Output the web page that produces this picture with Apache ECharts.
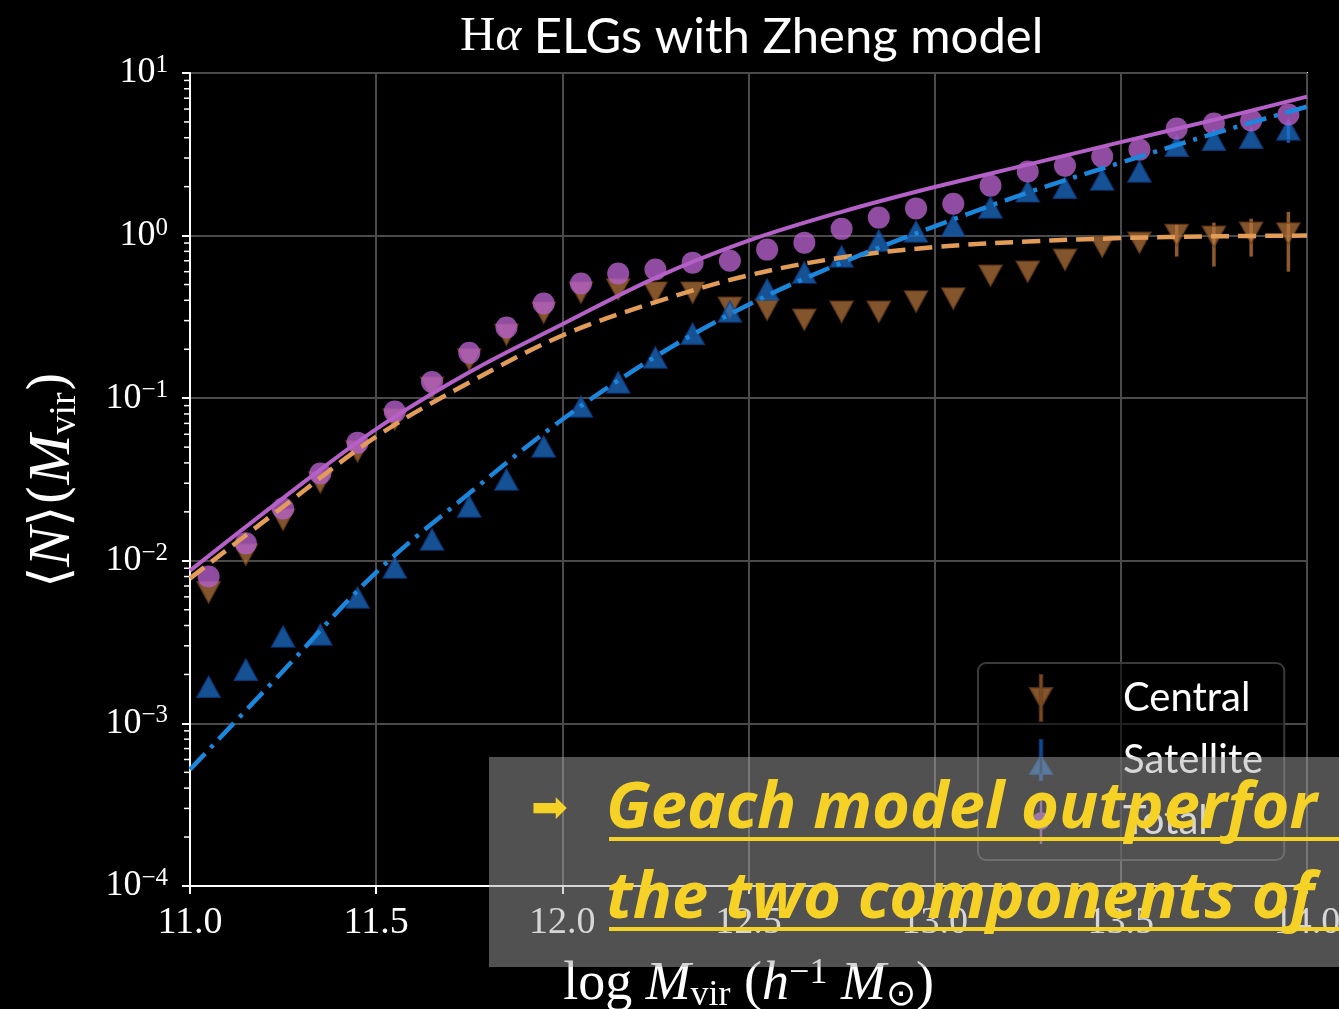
<!DOCTYPE html>
<html><head><meta charset="utf-8">
<script src="https://cdn.jsdelivr.net/npm/echarts@6/dist/echarts.min.js"></script>
<style>html,body{margin:0;padding:0;background:#000}#c{width:1339px;height:1009px}</style>
</head><body><div id="c"></div>
<script>
// ---- data ----
const massBins = [11.05, 11.15, 11.25, 11.35, 11.45, 11.55, 11.65, 11.75, 11.85, 11.95,
                  12.05, 12.15, 12.25, 12.35, 12.45, 12.55, 12.65, 12.75, 12.85, 12.95,
                  13.05, 13.15, 13.25, 13.35, 13.45, 13.55, 13.65, 13.75, 13.85, 13.95];
const totalMeasured = [0.0080, 0.0128, 0.021, 0.0344, 0.0533, 0.0827, 0.126, 0.19, 0.272, 0.382,
                       0.507, 0.584, 0.618, 0.682, 0.70, 0.82, 0.905, 1.10, 1.29, 1.47,
                       1.57, 2.03, 2.48, 2.69, 3.06, 3.38, 4.55, 4.89, 5.1, 5.55];
const centralMeasured = [0.0064, 0.0109, 0.0179, 0.0303, 0.047, 0.074, 0.116, 0.173, 0.246, 0.336,
                         0.446, 0.466, 0.446, 0.446, 0.36, 0.35, 0.304, 0.34, 0.34, 0.393,
                         0.41, 0.567, 0.60, 0.71, 0.855, 0.905, 1.01, 0.985, 1.04, 1.03];
const satelliteMeasured = [0.00168, 0.00214, 0.00342, 0.00352, 0.00594, 0.00908, 0.0135, 0.0216, 0.0316, 0.0504,
                           0.0888, 0.125, 0.178, 0.249, 0.341, 0.466, 0.592, 0.743, 0.931, 1.06,
                           1.15, 1.49, 1.87, 1.97, 2.21, 2.48, 3.57, 3.89, 4.0, 4.49];
const centralErrMass = [13.65, 13.75, 13.85, 13.95];
const centralErrLow  = [0.743, 0.645, 0.743, 0.60];
const centralErrHigh = [1.17, 1.20, 1.27, 1.40];
const satelliteErrMass = [13.95];
const satelliteErrLow  = [3.73];
const satelliteErrHigh = [4.95];

const modelMass = [11.0, 11.25, 11.5, 11.75, 12.0, 12.25, 12.5, 12.75, 13.0, 13.25, 13.5, 13.75, 14.0];
const totalModel = [0.0087, 0.0243, 0.0646, 0.1445, 0.285, 0.55, 0.93, 1.40, 1.99, 2.73, 3.76, 5.15, 7.16];
const centralModel = [0.0078, 0.0215, 0.058, 0.125, 0.243, 0.39, 0.57, 0.733, 0.85, 0.92, 0.965, 0.99, 1.0];
const satelliteModel = [0.00052, 0.0021, 0.0085, 0.026, 0.074, 0.18, 0.376, 0.68, 1.14, 1.84, 2.81, 4.24, 6.21];

const xTickLabels = ['11.0', '11.5', '12.0', '12.5', '13.0', '13.5', '14.0'];
const yDecades = [-4, -3, -2, -1, 0, 1];
const minorMultipliers = [2, 3, 4, 5, 6, 7, 8, 9];

// ---- build ----
const pairs = (xs, ys) => xs.map((x, i) => [x, ys[i]]);
const minorTicks = [];
yDecades.slice(0, -1).forEach(d => minorMultipliers.forEach(m => minorTicks.push([11.0, m * Math.pow(10, d)])));

const serif = 'Liberation Serif';
const sans = 'Lato';

function errorBar(color, width) {
  return function (params, api) {
    const p1 = api.coord([api.value(0), api.value(1)]);
    const p2 = api.coord([api.value(0), api.value(2)]);
    return { type: 'line', shape: { x1: p1[0], y1: p1[1], x2: p2[0], y2: p2[1] },
             style: { stroke: color, lineWidth: width } };
  };
}

const centralColor = 'rgba(182,118,62,0.9)';
const satelliteColor = 'rgba(28,110,200,0.92)';
const totalColor = '#b45fc8';

const chart = echarts.init(document.getElementById('c'), null, { renderer: 'canvas' });
chart.setOption({
  backgroundColor: '#000',
  animation: false,
  title: {
    text: '{h|H}{a|α} ELGs with Zheng model',
    left: 455, top: 8,
    textStyle: {
      color: '#fff', fontFamily: sans, fontSize: 49, fontWeight: 'normal',
      rich: {
        h: { color: '#fff', fontFamily: serif, fontSize: 49 },
        a: { color: '#fff', fontFamily: serif, fontStyle: 'italic', fontSize: 49 }
      }
    }
  },
  legend: {
    data: [
      { name: 'Central', icon: 'path://M9.75,0L12.25,0L12.25,46L9.75,46Z M0,13L22,13L11,33Z' },
      { name: 'Satellite', icon: 'path://M9.75,0L12.25,0L12.25,40L9.75,40Z M0,34L22,34L11,16Z' },
      { name: 'Total', icon: 'path://M9.75,0L12.25,0L12.25,46L9.75,46Z M11,14A9,9 0 1,1 11,32A9,9 0 1,1 11,14Z' }
    ],
    orient: 'vertical', left: 978, top: 663,
    itemWidth: 22, itemHeight: 46, itemGap: 17,
    padding: [11, 21, 16, 51],
    backgroundColor: 'rgba(0,0,0,0.55)', borderColor: '#3a3a3a', borderWidth: 2, borderRadius: 8,
    textStyle: { color: '#fff', fontFamily: sans, fontSize: 40, padding: [0, 0, 0, 66] }
  },
  grid: { left: 190, right: 32, top: 73, bottom: 123, show: true, borderColor: '#fff', borderWidth: 2,
          backgroundColor: 'transparent', outerBoundsMode: 'none', containLabel: false },
  xAxis: {
    type: 'value', min: 11, max: 14, interval: 0.5,
    axisLine: { show: true, onZero: false, lineStyle: { color: '#fff', width: 2 } },
    axisTick: { show: true, length: 8, lineStyle: { color: '#fff', width: 2 } },
    axisLabel: {
      color: '#fff', fontFamily: serif, fontSize: 38, margin: 18,
      formatter: v => xTickLabels[Math.round((v - 11) / 0.5)]
    },
    splitLine: { show: true, lineStyle: { color: '#4a4a4a', width: 2 } },
    name: '{r|log }{i|M}{sub|vir}{r| (}{i|h}{sup|−1}{r| }{i|M}{sub|⊙}{r|)}',
    nameLocation: 'middle', nameGap: 70,
    nameTextStyle: {
      color: '#fff',
      rich: {
        r: { color: '#fff', fontFamily: serif, fontSize: 54, lineHeight: 58 },
        i: { color: '#fff', fontFamily: serif, fontStyle: 'italic', fontSize: 54, lineHeight: 58 },
        sub: { color: '#fff', fontFamily: serif, fontSize: 36, lineHeight: 34, verticalAlign: 'bottom' },
        sup: { color: '#fff', fontFamily: serif, fontSize: 36, lineHeight: 34, verticalAlign: 'top' }
      }
    }
  },
  yAxis: {
    type: 'log', logBase: 10, min: 1e-4, max: 10, splitNumber: 5,
    axisLine: { show: true, onZero: false, lineStyle: { color: '#fff', width: 2 } },
    axisTick: { show: true, length: 8, lineStyle: { color: '#fff', width: 2 } },
    axisLabel: {
      color: '#fff', margin: 22,
      formatter: v => {
        const e = Math.round(Math.log10(v));
        return '{b|10}{s|' + (e < 0 ? '−' + (-e) : String(e)) + '}';
      },
      rich: {
        b: { color: '#fff', fontFamily: serif, fontSize: 36, lineHeight: 40 },
        s: { color: '#fff', fontFamily: serif, fontSize: 25, lineHeight: 26, verticalAlign: 'top' }
      }
    },
    splitLine: { show: true, lineStyle: { color: '#4a4a4a', width: 2 } },
    name: '{a|⟨}{i|N}{a|⟩(}{i|M}{sub|vir}{a|)}',
    nameLocation: 'middle', nameGap: 106, nameRotate: 90,
    nameTextStyle: {
      color: '#fff',
      rich: {
        a: { color: '#fff', fontFamily: 'DejaVu Serif', fontSize: 54, lineHeight: 62 },
        i: { color: '#fff', fontFamily: serif, fontStyle: 'italic', fontSize: 60, lineHeight: 62 },
        sub: { color: '#fff', fontFamily: serif, fontSize: 38, lineHeight: 36, verticalAlign: 'bottom' }
      }
    }
  },
  series: [
    { type: 'custom', name: 'minorTicks', data: minorTicks, silent: true, z: 3,
      renderItem: (params, api) => {
        const p = api.coord([api.value(0), api.value(1)]);
        return { type: 'line', shape: { x1: p[0] - 6, y1: p[1], x2: p[0], y2: p[1] },
                 style: { stroke: '#fff', lineWidth: 1.5 } };
      } },
    { type: 'custom', name: 'centralErr', data: centralErrMass.map((m, i) => [m, centralErrLow[i], centralErrHigh[i]]),
      renderItem: errorBar('rgba(160,100,50,0.9)', 3.5), z: 2, silent: true },
    { type: 'custom', name: 'satErr', data: satelliteErrMass.map((m, i) => [m, satelliteErrLow[i], satelliteErrHigh[i]]),
      renderItem: errorBar('rgba(28,110,200,0.9)', 3.5), z: 2, silent: true },
    { type: 'scatter', name: 'Central', data: pairs(massBins, centralMeasured),
      symbol: 'triangle', symbolRotate: 180, symbolSize: [23, 21], z: 3,
      itemStyle: { color: centralColor, borderColor: 'rgba(110,64,28,0.9)', borderWidth: 1.5 } },
    { type: 'scatter', name: 'Satellite', data: pairs(massBins, satelliteMeasured),
      symbol: 'triangle', symbolSize: [23, 21], z: 4,
      itemStyle: { color: satelliteColor, borderColor: 'rgba(12,66,140,0.95)', borderWidth: 1.5 } },
    { type: 'scatter', name: 'Total', data: pairs(massBins, totalMeasured),
      symbol: 'circle', symbolSize: 22, z: 5,
      itemStyle: { color: totalColor } },
    { type: 'line', name: 'centralModel', data: pairs(modelMass, centralModel), smooth: 0.35,
      symbol: 'none', z: 6, lineStyle: { color: '#e39c58', width: 4.5, type: [18, 9] } },
    { type: 'line', name: 'satelliteModel', data: pairs(modelMass, satelliteModel), smooth: 0.35,
      symbol: 'none', z: 6, lineStyle: { color: '#1a86dc', width: 4.5, type: [22, 8, 4, 8] } },
    { type: 'line', name: 'totalModel', data: pairs(modelMass, totalModel), smooth: 0.35,
      symbol: 'none', z: 7, lineStyle: { color: '#b560c8', width: 4 } }
  ],
  graphic: [
    { type: 'rect', z: 100, shape: { x: 489, y: 757, width: 850, height: 210 },
      style: { fill: 'rgba(170,170,170,0.48)' } },
    { type: 'text', z: 101, style: { text: '➡', x: 531, y: 811, fill: '#f7d226',
      font: '44px "DejaVu Sans"', verticalAlign: 'middle' } },
    { type: 'text', z: 101, style: { text: 'Geach model outperfor', x: 606, y: 809, fill: '#f7d226',
      font: 'italic bold 65px "Open Sans"', verticalAlign: 'middle' } },
    { type: 'text', z: 101, style: { text: 'the two components of', x: 606, y: 899, fill: '#f7d226',
      font: 'italic bold 65px "Open Sans"', verticalAlign: 'middle' } },
    { type: 'rect', z: 101, shape: { x: 609, y: 837, width: 730, height: 4 }, style: { fill: '#f7d226' } },
    { type: 'rect', z: 101, shape: { x: 609, y: 927, width: 730, height: 4 }, style: { fill: '#f7d226' } }
  ]
});
</script>
</body></html>
